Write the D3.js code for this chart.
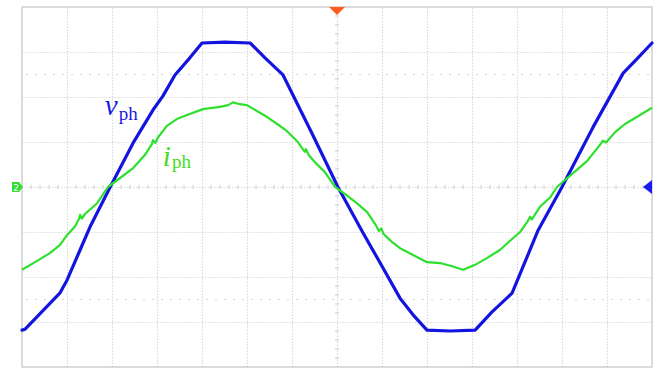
<!DOCTYPE html>
<html>
<head>
<meta charset="utf-8">
<script src="https://cdn.jsdelivr.net/npm/d3@7/dist/d3.min.js"></script>
<style>
  html, body { margin: 0; padding: 0; background: #ffffff; }
  svg { display: block; }
</style>
</head>
<body>
<svg id="scope" width="660" height="371"></svg>
<script>
// Graticule: 14 horizontal divisions, 8 vertical divisions
const xMajor = d3.range(1, 14);
const yMajor = d3.range(-3, 4);
const dashedLevels = [-2.5, 2.5];

// Phase voltage v_ph: time (div) and amplitude (div)
const voltTime = [0.00, 0.07, 0.84, 1.00, 1.29, 1.51, 1.96, 2.47, 2.91, 3.13, 3.40, 3.73, 4.00, 4.51,
                  5.07, 5.40, 5.80, 6.44, 7.02, 7.58, 7.96, 8.40, 8.69, 9.00, 9.51, 10.07, 10.44,
                  10.89, 11.47, 12.00, 12.69, 13.36, 13.64, 14.00];
const voltValue = [-3.18, -3.16, -2.36, -2.07, -1.40, -0.89, 0.00, 0.98, 1.71, 2.02, 2.49, 2.87, 3.20, 3.22,
                   3.20, 2.87, 2.49, 1.20, 0.00, -1.02, -1.69, -2.47, -2.84, -3.18, -3.20, -3.18, -2.78,
                   -2.36, -0.96, 0.00, 1.33, 2.53, 2.82, 3.20];

// Phase current i_ph: time (div) and amplitude (div)
const currTime = [0.00, 0.29, 0.62, 0.84, 1.00, 1.18, 1.27, 1.29, 1.33, 1.40, 1.67, 1.91, 2.18, 2.47,
                  2.73, 2.89, 2.91, 2.96, 3.02, 3.22, 3.44, 3.67, 4.02, 4.40, 4.58, 4.69, 4.84, 5.00,
                  5.22, 5.44, 5.67, 5.89, 6.13, 6.24, 6.29, 6.31, 6.38, 6.53, 6.73, 6.96, 7.18, 7.44,
                  7.67, 7.87, 7.93, 7.98, 8.04, 8.22, 8.40, 8.69, 9.00, 9.29, 9.56, 9.80, 10.07, 10.33,
                  10.62, 10.84, 11.07, 11.24, 11.29, 11.33, 11.51, 11.73, 11.89, 12.07, 12.33, 12.56,
                  12.84, 12.91, 12.98, 13.18, 13.40, 13.67, 14.00];
const currValue = [-1.84, -1.67, -1.47, -1.29, -1.07, -0.87, -0.70, -0.62, -0.70, -0.60, -0.36, 0.00, 0.20, 0.42,
                   0.71, 0.96, 1.04, 0.98, 1.10, 1.36, 1.51, 1.60, 1.73, 1.78, 1.82, 1.88, 1.84, 1.82,
                   1.69, 1.56, 1.40, 1.24, 1.00, 0.84, 0.78, 0.84, 0.70, 0.53, 0.33, 0.00, -0.16, -0.36,
                   -0.56, -0.86, -0.98, -0.92, -1.05, -1.22, -1.36, -1.51, -1.67, -1.69, -1.76, -1.84, -1.73, -1.58,
                   -1.40, -1.20, -1.00, -0.76, -0.66, -0.72, -0.44, -0.24, 0.00, 0.16, 0.38, 0.58,
                   0.93, 1.03, 0.99, 1.22, 1.40, 1.56, 1.76];

const traceLabels = [
  { main: "v", sub: "ph", t: 1.84, v: 1.60, dy: 5, color: "#1a1ae0" },
  { main: "i", sub: "ph", t: 3.13, v: 0.47, dy: 2, color: "#44dd22" }
];

const svg = d3.select("#scope");
const plotLeft = 22, plotTop = 7, plotW = 630, plotH = 360;

const x = d3.scaleLinear().domain([0, 14]).range([plotLeft, plotLeft + plotW]);
const y = d3.scaleLinear().domain([-4, 4]).range([plotTop + plotH, plotTop]);

// Major grid lines (dotted)
const gridColor = "#dadada";
const gx = svg.append("g")
  .attr("transform", `translate(0,${plotTop + plotH})`)
  .call(d3.axisBottom(x).tickValues(xMajor).tickSize(-plotH).tickFormat(""));
const gyAxis = svg.append("g")
  .attr("transform", `translate(${plotLeft},0)`)
  .call(d3.axisLeft(y).tickValues(yMajor).tickSize(-plotW).tickFormat(""));
[gx, gyAxis].forEach(g => {
  g.select(".domain").remove();
  g.selectAll(".tick line")
    .attr("stroke", gridColor)
    .attr("stroke-width", 1.2)
    .attr("stroke-dasharray", "1.5,1.5");
});

// Dashed reference levels
svg.append("g").selectAll("line").data(dashedLevels).join("line")
  .attr("x1", plotLeft + 4).attr("x2", plotLeft + plotW)
  .attr("y1", d => y(d)).attr("y2", d => y(d))
  .attr("stroke", "#d6d6d6")
  .attr("stroke-width", 1)
  .attr("stroke-dasharray", "2,7");

// Minor ticks along centre axes
const minorX = d3.range(0.2, 14, 0.2).filter(d => Math.abs(d - Math.round(d)) > 0.05);
const minorY = d3.range(-3.8, 4, 0.2).filter(d => Math.abs(d - Math.round(d)) > 0.05);
svg.append("g").selectAll("line").data(minorX).join("line")
  .attr("x1", d => x(d)).attr("x2", d => x(d))
  .attr("y1", y(0) - 2).attr("y2", y(0) + 2)
  .attr("stroke", "#d4d4d4").attr("stroke-width", 1.2);
svg.append("g").selectAll("line").data(minorY).join("line")
  .attr("y1", d => y(d)).attr("y2", d => y(d))
  .attr("x1", x(7) - 2).attr("x2", x(7) + 2)
  .attr("stroke", "#d4d4d4").attr("stroke-width", 1.2);

// Frame
svg.append("rect")
  .attr("x", plotLeft).attr("y", plotTop).attr("width", plotW).attr("height", plotH)
  .attr("fill", "none").attr("stroke", "#cfcfcf").attr("stroke-width", 1.5);

// Traces
const line = d3.line().x(d => x(d[0])).y(d => y(d[1]));
const voltData = d3.zip(voltTime, voltValue);
const currData = d3.zip(currTime, currValue);

svg.append("path").datum(voltData)
  .attr("d", line)
  .attr("fill", "none")
  .attr("stroke", "#1414e0")
  .attr("stroke-width", 3.2)
  .attr("stroke-linejoin", "round")
  .attr("stroke-linecap", "round");

svg.append("path").datum(currData)
  .attr("d", line)
  .attr("fill", "none")
  .attr("stroke", "#2ee02e")
  .attr("stroke-width", 2.2)
  .attr("stroke-linejoin", "round");

// Trace labels
traceLabels.forEach(l => {
  const t = svg.append("text")
    .attr("x", x(l.t)).attr("y", y(l.v))
    .attr("fill", l.color)
    .attr("font-family", "'Liberation Serif', 'Times New Roman', serif");
  t.append("tspan").attr("font-style", "italic").attr("font-size", 29).text(l.main);
  t.append("tspan").attr("font-size", 19).attr("dx", 1).attr("dy", l.dy).text(l.sub);
});

// Trigger position marker (top)
const tx = x(7);
svg.append("path")
  .attr("d", `M${tx - 8},${plotTop} L${tx + 8},${plotTop} L${tx},${plotTop + 8} Z`)
  .attr("fill", "#ff5a1f");

// Channel 2 ground marker (left)
const gy0 = y(0);
svg.append("path")
  .attr("d", `M12,${gy0 - 5} L19,${gy0 - 5} L23,${gy0} L19,${gy0 + 5} L12,${gy0 + 5} Z`)
  .attr("fill", "#33dd33");
svg.append("text")
  .attr("x", 16).attr("y", gy0 + 3.5)
  .attr("text-anchor", "middle")
  .attr("font-family", "'DejaVu Sans', sans-serif")
  .attr("font-size", 9)
  .attr("fill", "#ffffff")
  .text("2");

// Trigger level marker (right)
svg.append("path")
  .attr("d", `M${plotLeft + plotW},${gy0 - 7} L${plotLeft + plotW},${gy0 + 7} L${plotLeft + plotW - 9},${gy0} Z`)
  .attr("fill", "#1a1aee");
</script>
</body>
</html>
